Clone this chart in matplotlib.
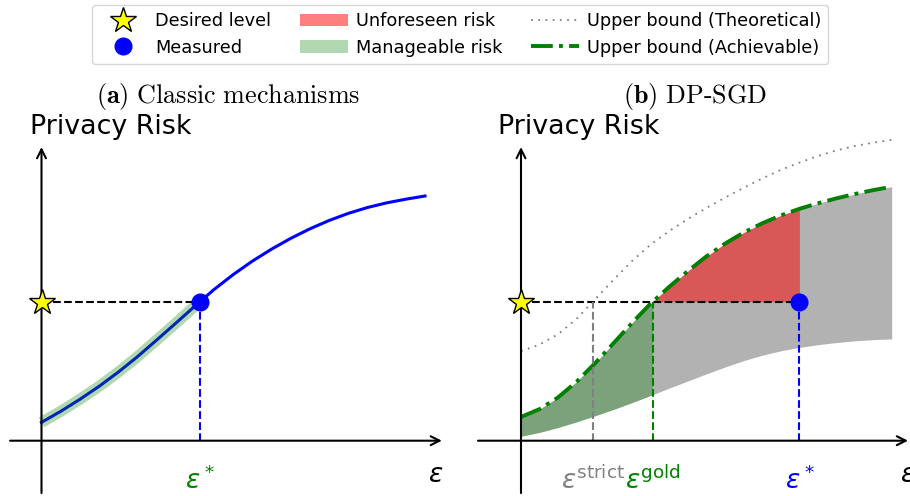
import numpy as np
import matplotlib
matplotlib.use("Agg")
import matplotlib.pyplot as plt

# ---------------- data ----------------
# Panel (a): classic mechanisms
eps_a = [0.0, 0.5, 1.0, 1.5, 2.0, 2.5, 3.0, 3.5, 4.0, 4.5, 5.0,
         5.5, 6.0, 6.5, 7.0, 7.5, 8.0, 8.5, 9.0, 9.5, 10.0]
risk_a = [0.75, 1.20, 1.69, 2.22, 2.80, 3.43, 4.11, 4.80, 5.50, 6.18, 6.79,
          7.34, 7.83, 8.27, 8.66, 9.00, 9.29, 9.53, 9.72, 9.87, 10.0]
eps_star_a = 4.13
desired_level = 5.68

# Panel (b): DP-SGD
eps_b = [0.0, 0.5, 1.0, 1.5, 2.0, 2.5, 3.0, 3.5, 4.0, 4.5, 5.0,
         5.5, 6.0, 6.5, 7.0, 7.5, 8.0, 8.5, 9.0, 9.5, 10.0]
upper_achievable = [0.97, 1.29, 1.77, 2.41, 3.17, 3.99, 4.82, 5.61, 6.29, 6.93, 7.53,
                    8.05, 8.50, 8.88, 9.20, 9.47, 9.70, 9.90, 10.08, 10.24, 10.38]
lower_bound = [0.18, 0.34, 0.54, 0.77, 1.02, 1.28, 1.56, 1.85, 2.15, 2.44, 2.73,
               3.01, 3.27, 3.49, 3.67, 3.81, 3.92, 4.01, 4.08, 4.13, 4.16]
upper_theoretical = [3.66, 3.93, 4.35, 4.98, 5.78, 6.58, 7.35, 8.02, 8.57, 9.06, 9.51,
                     9.93, 10.33, 10.71, 11.06, 11.36, 11.63, 11.86, 12.04, 12.18, 12.29]
eps_strict = 1.93
eps_gold = 3.55
eps_star_b = 7.51

# ---------------- figure ----------------
W, H = 910, 496
fig = plt.figure(figsize=(W / 100, H / 100), dpi=100)

def make_axes(px_left, px_right, px_top, px_bottom, x0_px, xunit, y0_px=440.7, yunit=24.47):
    ax = fig.add_axes([px_left / W, 1 - px_bottom / H, (px_right - px_left) / W, (px_bottom - px_top) / H])
    ax.set_xlim((px_left - x0_px) / xunit, (px_right - x0_px) / xunit)
    ax.set_ylim((y0_px - px_bottom) / yunit, (y0_px - px_top) / yunit)
    ax.axis("off")
    return ax

axA = make_axes(0, 455, 110, 496, 41.5, 38.35)
axB = make_axes(470, 910, 110, 496, 521.0, 37.07)

arrow = dict(arrowstyle="->", lw=1.5, color="black", shrinkA=0, shrinkB=0, mutation_scale=16)

def draw_axes(ax, xleft, xright):
    ax.annotate("", xy=(xright, 0), xytext=(xleft, 0), arrowprops=arrow, zorder=6,
                annotation_clip=False)
    ax.annotate("", xy=(0, 12.0), xytext=(0, -2.14), arrowprops=arrow, zorder=6,
                annotation_clip=False)

# ---------- panel (a) ----------
draw_axes(axA, -0.82, 10.44)
axA.plot(eps_a, risk_a, color="blue", lw=2.2, zorder=3, solid_joinstyle="round")
xa = np.array(eps_a)
ya = np.array(risk_a)
m = xa < eps_star_a
band_x = np.append(xa[m], eps_star_a)
band_y = np.append(ya[m], desired_level)
axA.plot(band_x, band_y, color="green", alpha=0.3, lw=8, solid_capstyle="butt",
         solid_joinstyle="round", zorder=4)
axA.plot([0, eps_star_a], [desired_level, desired_level], ls="--", color="black", lw=1.5, zorder=5)
axA.plot([eps_star_a, eps_star_a], [0, desired_level], ls="--", color="blue", lw=1.5, zorder=5)
star_h, = axA.plot([0], [desired_level], marker="*", ms=19, mfc="yellow", mec="black",
                   mew=1.0, ls="none", zorder=8, clip_on=False)
dot_h, = axA.plot([eps_star_a], [desired_level], marker="o", ms=12, color="blue",
                  ls="none", zorder=8)
axA.text(-0.30, 12.53, "Privacy Risk", fontsize=19.4, ha="left", va="baseline")
axA.text(eps_star_a, -1.97, r"$\varepsilon^*$", color="green", fontsize=19,
         ha="center", va="baseline")
axA.text(10.08, -1.69, r"$\varepsilon$", color="black", fontsize=19,
         ha="left", va="baseline")

# ---------- panel (b) ----------
draw_axes(axB, -1.16, 10.44)
xb = np.array(eps_b)
up = np.array(upper_achievable)
lo = np.array(lower_bound)
axB.fill_between(xb, lo, up, color="gray", alpha=0.6, lw=0, zorder=1)

def segment(x0, x1):
    inner = xb[(xb > x0) & (xb < x1)]
    xs = np.concatenate([[x0], inner, [x1]])
    return xs, np.interp(xs, xb, up), np.interp(xs, xb, lo)

gx, gu, gl = segment(0.0, eps_gold)
green_h = axB.fill_between(gx, gl, gu, color="green", alpha=0.3, lw=0, zorder=2)
rx, ru, _ = segment(eps_gold, eps_star_b)
red_h = axB.fill_between(rx, np.full_like(rx, desired_level), ru, color="red", alpha=0.5,
                         lw=0, zorder=2)
theo_h, = axB.plot(eps_b, upper_theoretical, color="gray", lw=1.3, ls=(0, (1, 3)), zorder=3)
ach_h, = axB.plot(eps_b, upper_achievable, color="green", lw=2.8,
                  ls=(0, (5.6, 1.6, 1.0, 1.6)), zorder=4)
axB.plot([0, eps_star_b], [desired_level, desired_level], ls="--", color="black", lw=1.5, zorder=5)
axB.plot([eps_strict, eps_strict], [0, desired_level], ls="--", color="gray", lw=1.5, zorder=5)
axB.plot([eps_gold, eps_gold], [0, desired_level], ls="--", color="green", lw=1.5, zorder=5)
axB.plot([eps_star_b, eps_star_b], [0, desired_level], ls="--", color="blue", lw=1.5, zorder=5)
axB.plot([0], [desired_level], marker="*", ms=19, mfc="yellow", mec="black",
         mew=1.0, ls="none", zorder=8, clip_on=False)
axB.plot([eps_star_b], [desired_level], marker="o", ms=12, color="blue", ls="none", zorder=8)
axB.text(-0.62, 12.53, "Privacy Risk", fontsize=19.4, ha="left", va="baseline")
axB.text(eps_strict, -1.97, r"$\varepsilon^{\mathrm{strict}}$", color="gray", fontsize=19,
         ha="center", va="baseline")
axB.text(eps_gold, -1.97, r"$\varepsilon^{\mathrm{gold}}$", color="green", fontsize=19,
         ha="center", va="baseline")
axB.text(eps_star_b, -1.97, r"$\varepsilon^*$", color="blue", fontsize=19,
         ha="center", va="baseline")
axB.text(10.22, -1.69, r"$\varepsilon$", color="black", fontsize=19,
         ha="left", va="baseline")

# ---------- titles ----------
fig.text(228 / W, 1 - 103 / H, r"$\mathbf{(a)}\ \mathrm{Classic\ mechanisms}$",
         fontsize=18.8, ha="center", va="baseline", math_fontfamily="cm")
fig.text(695 / W, 1 - 103 / H, r"$\mathbf{(b)}\ \mathrm{DP\text{-}SGD}$",
         fontsize=18.8, ha="center", va="baseline", math_fontfamily="cm")

# ---------- legend ----------
handles = [star_h, dot_h, red_h, green_h, theo_h, ach_h]
labels = ["Desired level", "Measured", "Unforeseen risk", "Manageable risk",
          "Upper bound (Theoretical)", "Upper bound (Achievable)"]
fig.legend(handles, labels, loc="upper center", bbox_to_anchor=(460 / W, 1 - 5 / H), ncol=3,
           fontsize=12.8, handlelength=2.7, handletextpad=0.45, columnspacing=1.62,
           labelspacing=0.48, borderpad=0.4, borderaxespad=0)

fig.savefig("out.png", dpi=100)
